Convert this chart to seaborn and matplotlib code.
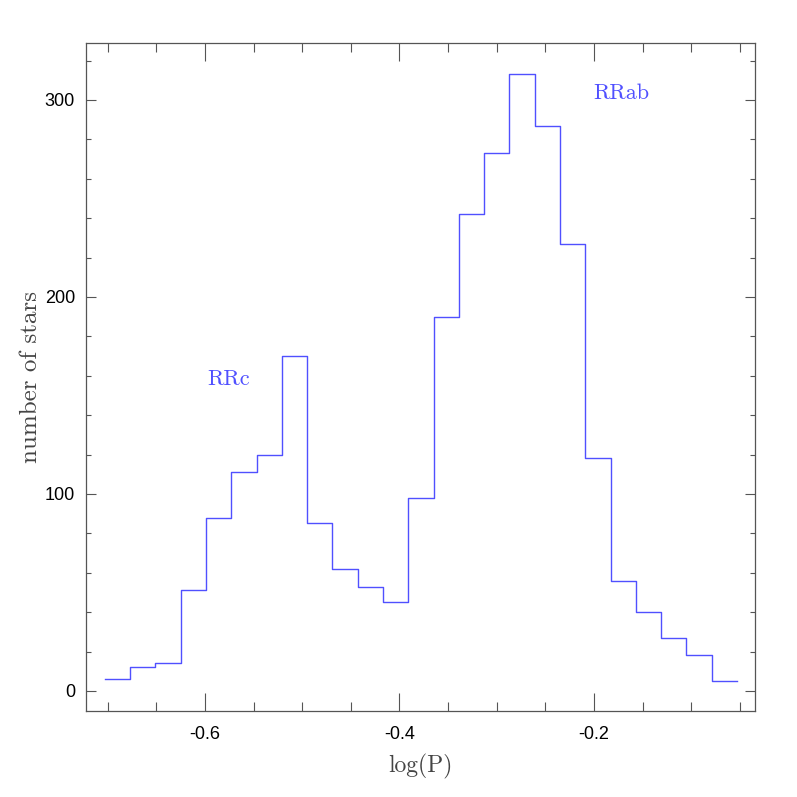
import numpy as np
import pandas as pd
import matplotlib
matplotlib.use("Agg")
import matplotlib.pyplot as plt
import seaborn as sns
from matplotlib.ticker import MultipleLocator

# ------------------------------------------------------------
# data: histogram of log(P) for RR Lyrae stars
# ------------------------------------------------------------
bin_start = -0.703
bin_width = 0.026
counts = [6, 12, 14, 51, 88, 111, 120, 170, 85, 62, 53, 45,
          98, 190, 242, 273, 313, 287, 227, 118, 56, 40, 27, 18, 5]

edges = bin_start + bin_width * np.arange(len(counts) + 1)
centers = (edges[:-1] + edges[1:]) / 2
df = pd.DataFrame({"logP": centers, "n": counts})

blue = "#5050ff"
grey = "#555555"
serif = ["cmr10", "DejaVu Serif"]
plt.rcParams["axes.unicode_minus"] = False

fig = plt.figure(figsize=(7.97, 7.97), dpi=100)
ax = fig.add_axes([0.1079, 0.1079, 0.8394, 0.8381])

sns.histplot(data=df, x="logP", weights="n", bins=edges.tolist(),
             element="step", fill=False, color=blue, linewidth=1.0, ax=ax)

ax.text(-0.576, 158, "RRc", color=blue, fontsize=16, family=serif,
        ha="center", va="center")
ax.text(-0.172, 303.5, "RRab", color=blue, fontsize=16, family=serif,
        ha="center", va="center")

ax.set_xlim(-0.7224, -0.0344)
ax.set_ylim(-10.2, 328.9)
ax.xaxis.set_major_locator(MultipleLocator(0.2))
ax.xaxis.set_minor_locator(MultipleLocator(0.05))
ax.yaxis.set_major_locator(MultipleLocator(100))
ax.yaxis.set_minor_locator(MultipleLocator(20))

ax.tick_params(axis="x", which="both", direction="in", top=True, bottom=True,
               colors=grey, labelcolor="black", labelsize=13, pad=11)
ax.tick_params(axis="x", which="major", length=13, width=0.8)
ax.tick_params(axis="x", which="minor", length=6.5, width=0.8)
ax.tick_params(axis="y", which="both", direction="in", left=True, right=True,
               colors=grey, labelcolor="black", labelsize=13, pad=8)
ax.tick_params(axis="y", which="major", length=7, width=0.8)
ax.tick_params(axis="y", which="minor", length=3.6, width=0.8)
for lab in ax.get_xticklabels() + ax.get_yticklabels():
    lab.set_family("Liberation Sans")

for s in ax.spines.values():
    s.set_color(grey)
    s.set_linewidth(0.9)

ax.set_xlabel("log(P)", family=serif, fontsize=17, color="#444444",
              labelpad=8)
ax.set_ylabel("number of stars", family=serif, fontsize=18,
              color="#444444", labelpad=2)

fig.savefig("out.png", dpi=100)
